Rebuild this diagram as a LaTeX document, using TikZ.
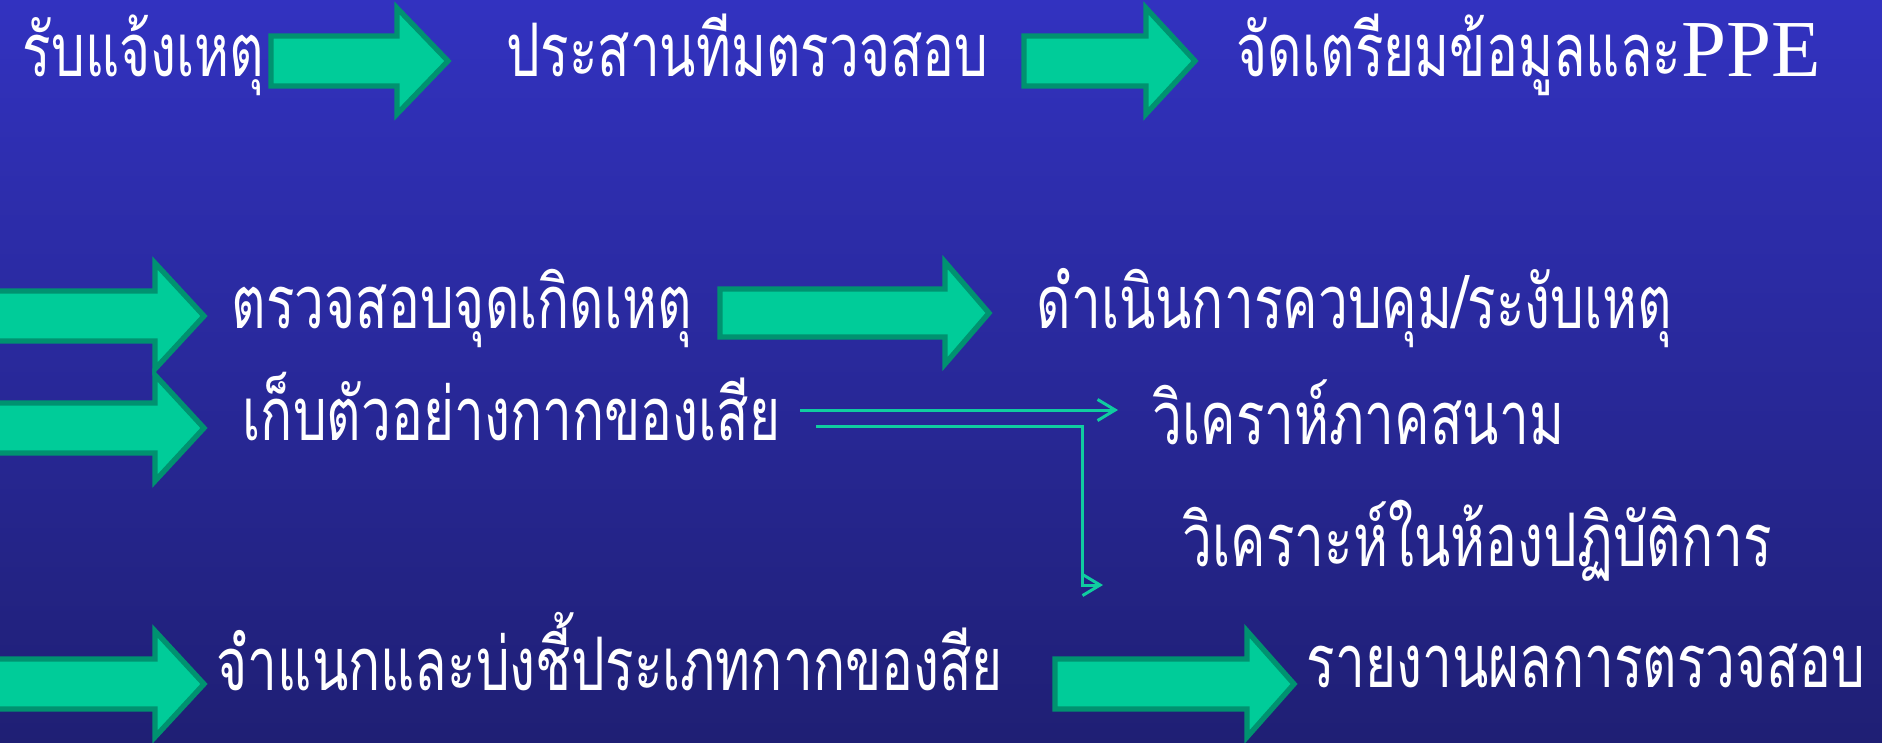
\documentclass[tikz,border=0pt]{standalone}
\usepackage{fontspec}
\usetikzlibrary{arrows.meta}
\newfontfamily\thai[Script=Thai,FakeStretch=0.72]{Loma}
\newfontfamily\ppefont{Liberation Serif}
\definecolor{bgtop}{RGB}{50,50,192}
\definecolor{bgbot}{RGB}{31,31,116}
\definecolor{arrfill}{RGB}{0,204,153}
\definecolor{arrline}{RGB}{0,146,112}
\definecolor{lnk}{RGB}{16,204,160}
\newcommand\blockarr[7]{% name, x0, xb, xt, yc, shaft half, head half
  \draw[barrow] (#2,{#5-#6}) coordinate (#1) -- (#3,{#5-#6}) -- (#3,{#5-#7}) -- (#4,#5)
    -- (#3,{#5+#7}) -- (#3,{#5+#6}) -- (#2,{#5+#6}) -- cycle;}
\begin{document}
\begin{tikzpicture}[x=0.01cm,y=-0.01cm,
  lbl/.style={anchor=base west, inner sep=0pt, text=white, font=\thai\fontsize{21}{25}\selectfont},
  barrow/.style={fill=arrfill, draw=arrline, line width=1.5pt, line join=miter},
  link/.style={draw=lnk, line width=0.85pt, -{Straight Barb[length=5pt,width=6pt]}}]
\shade[top color=bgtop, bottom color=bgbot] (0,0) rectangle (1882,742);
\useasboundingbox (0,0) rectangle (1882,742);
% block arrows
\blockarr{a1}{271}{397}{448}{61}{25}{53}
\blockarr{a2}{1024}{1146}{1195}{61}{25}{53}
\blockarr{a3}{-5}{155}{204}{316}{25}{53}
\blockarr{a4}{-5}{155}{204}{428}{25}{53}
\blockarr{a5}{720}{945}{989}{313}{24}{51}
\blockarr{a6}{-5}{155}{204}{684}{25}{53}
\blockarr{a7}{1055}{1247}{1294}{684}{25}{53}
% texts
\node[lbl] (t1) at (22,76) {รับแจ้งเหตุ};
\node[lbl] (t2) at (506,76) {ประสานทีมตรวจสอบ};
\node[lbl] (t3) at (1236,76) {จัดเตรียมข้อมูลและ{\ppefont\fontsize{23}{27}\selectfont PPE}};
\node[lbl] (t4) at (231,328) {ตรวจสอบจุดเกิดเหตุ};
\node[lbl] (t5) at (1036,328) {ดำเนินการควบคุม/ระงับเหตุ};
\node[lbl] (t6) at (242,440) {เก็บตัวอย่างกากของเสีย};
\node[lbl] (t7) at (1152,444) {วิเคราห์ภาคสนาม};
\node[lbl] (t8) at (1182,566) {วิเคราะห์ในห้องปฏิบัติการ};
\node[lbl] (t9) at (216,690) {จำแนกและบ่งชี้ประเภทกากของสีย};
\node[lbl] (t10) at (1306,687) {รายงานผลการตรวจสอบ};
% thin connectors
\coordinate (c1s) at (800,410);
\coordinate (c1e) at (1118,410);
\coordinate (c2s) at (816,426);
\coordinate (c2b) at (1082,426);
\coordinate (c2e) at (1103,585);
\draw[link] (c1s) -- (c1e);
\draw[link] (c2s) -- (c2b) -- (c2b |- c2e) -- (c2e);
\end{tikzpicture}
\end{document}
